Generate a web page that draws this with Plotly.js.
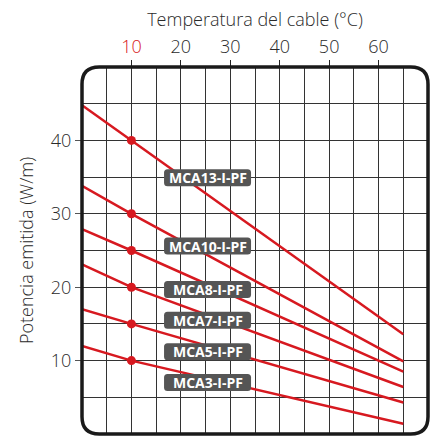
<!DOCTYPE html>
<html>
<head>
<meta charset="utf-8">
<script src="https://cdn.plot.ly/plotly-3.0.1.min.js"></script>
<style>html,body{margin:0;padding:0;background:#fff;}#chart{width:433px;height:437px;}</style>
</head>
<body>
<div id="chart"></div>
<script>
// Data
const temps = [0, 10, 65];
const models = ["MCA13-I-PF", "MCA10-I-PF", "MCA8-I-PF", "MCA7-I-PF", "MCA5-I-PF", "MCA3-I-PF"];
const mca13 = [44.8, 40, 13.6];
const mca10 = [33.8, 30, 9.9];
const mca8  = [27.9, 25, 8.5];
const mca7  = [23.1, 20, 6.4];
const mca5  = [17.0, 15, 4.3];
const mca3  = [12.0, 10, 1.4];
const series = [mca13, mca10, mca8, mca7, mca5, mca3];
const refTemp = 10;
const labelTemp = 25.4;
const labelPower = [34.9, 25.6, 19.7, 15.5, 11.2, 7.0];
const xTickVals = [10, 20, 30, 40, 50, 60];
const yTickVals = [10, 20, 30, 40];

const red = "#d71920";
const traces = [];
series.forEach((s, i) => {
  traces.push({
    x: temps, y: s, mode: "lines", type: "scatter",
    line: {color: red, width: 2.5}, hoverinfo: "skip", showlegend: false
  });
  traces.push({
    x: [refTemp], y: [s[temps.indexOf(refTemp)]], mode: "markers", type: "scatter",
    marker: {color: red, size: 9}, hoverinfo: "skip", showlegend: false
  });
});

function roundRectPath(w, h, r) {
  const x0 = -w/2, x1 = w/2, y0 = -h/2, y1 = h/2;
  return `M ${x0+r} ${y0} L ${x1-r} ${y0} Q ${x1} ${y0} ${x1} ${y0+r} L ${x1} ${y1-r} Q ${x1} ${y1} ${x1-r} ${y1} L ${x0+r} ${y1} Q ${x0} ${y1} ${x0} ${y1-r} L ${x0} ${y0+r} Q ${x0} ${y0} ${x0+r} ${y0} Z`;
}

const shapes = [];
const annotations = [];
models.forEach((m, i) => {
  shapes.push({
    type: "path", xref: "x", yref: "y", xsizemode: "pixel", ysizemode: "pixel",
    xanchor: labelTemp, yanchor: labelPower[i],
    path: roundRectPath(87, 17, 3.5),
    fillcolor: "#555555", line: {width: 0}, layer: "above"
  });
  annotations.push({
    x: labelTemp, y: labelPower[i], xref: "x", yref: "y", text: "<b>" + m + "</b>",
    showarrow: false, font: {family: "'Open Sans', sans-serif", size: 14, color: "#ffffff"},
    xanchor: "center", yanchor: "middle"
  });
});
// rounded frame
const rx = 0.05, ry = 0.047;
shapes.push({
  type: "path", xref: "paper", yref: "paper",
  path: `M ${rx} 0 L ${1-rx} 0 Q 1 0 1 ${ry} L 1 ${1-ry} Q 1 1 ${1-rx} 1 L ${rx} 1 Q 0 1 0 ${1-ry} L 0 ${ry} Q 0 0 ${rx} 0 Z`,
  line: {color: "#1a1a1a", width: 3.5}, fillcolor: "rgba(0,0,0,0)", layer: "above"
});

const tickFont = {family: "'Open Sans', sans-serif", size: 18, color: "#2a2a2a", weight: 300};
const layout = {
  width: 433, height: 437,
  margin: {l: 82, r: 5, t: 67, b: 3, pad: 0},
  paper_bgcolor: "#ffffff", plot_bgcolor: "#ffffff",
  font: {family: "'Open Sans', sans-serif", color: "#2a2a2a"},
  showlegend: false,
  xaxis: {
    side: "top", range: [0, 70], tickmode: "array", tickvals: xTickVals,
    ticktext: xTickVals.map(v => v === refTemp ? `<span style="color:${red}">${v}</span>` : String(v)),
    color: "#2a2a2a",
    ticks: "outside", ticklen: 6, tickcolor: "#222", tickwidth: 1,
    showgrid: true, gridcolor: "#333", gridwidth: 1,
    minor: {tickmode: "linear", tick0: 0, dtick: 5, showgrid: true, gridcolor: "#333", gridwidth: 1},
    zeroline: false, showline: false, tickfont: tickFont,
    title: {text: "Temperatura del cable (°C)", font: tickFont, standoff: 2},
    fixedrange: true
  },
  yaxis: {
    range: [0, 50], tickmode: "array", tickvals: yTickVals,
    color: "#2a2a2a",
    ticks: "outside", ticklen: 6, tickcolor: "#555", tickwidth: 1,
    showgrid: true, gridcolor: "#333", gridwidth: 1,
    minor: {tickmode: "linear", tick0: 0, dtick: 5, showgrid: true, gridcolor: "#333", gridwidth: 1},
    zeroline: false, showline: false, tickfont: tickFont,
    title: {text: "Potencia emitida (W/m)", font: tickFont, standoff: 12},
    fixedrange: true
  },
  shapes: shapes,
  annotations: annotations
};

Plotly.newPlot("chart", traces, layout, {displayModeBar: false, staticPlot: true});
</script>
</body>
</html>
